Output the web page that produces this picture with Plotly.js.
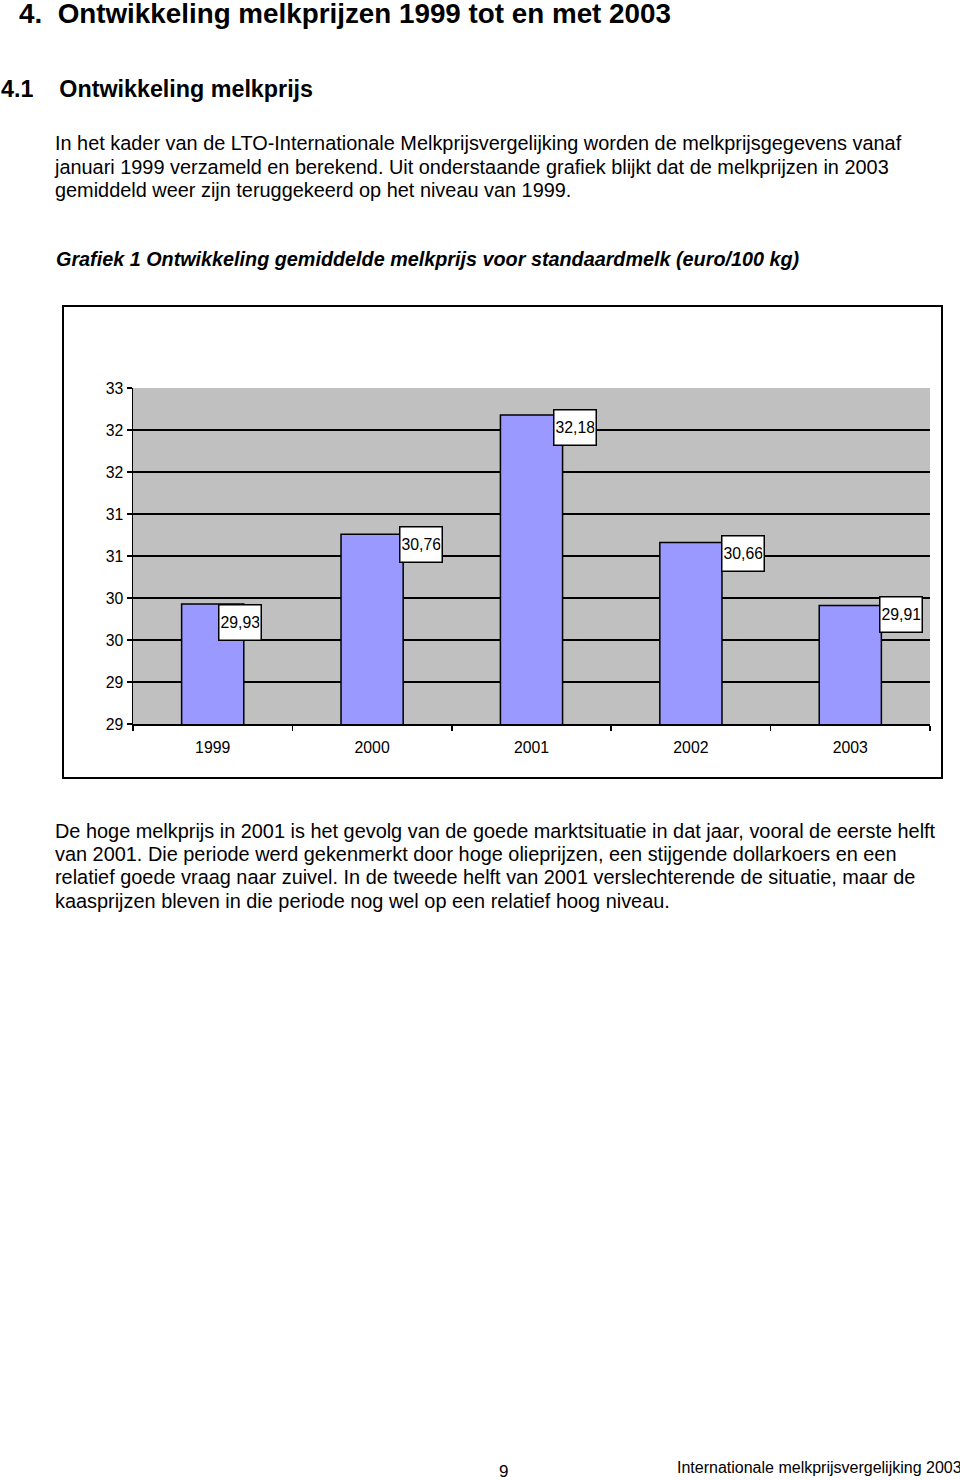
<!DOCTYPE html>
<html>
<head>
<meta charset="utf-8">
<script src="https://cdn.plot.ly/plotly-3.0.1.min.js"></script>
<style>
  html, body { margin: 0; padding: 0; background: #fff; }
  body { width: 960px; height: 1480px; position: relative; overflow: hidden;
         font-family: Arial, "Liberation Sans", sans-serif; color: #000; }
  .t { position: absolute; white-space: nowrap; }
  #h1 { left: 19px; top: -2px; font-size: 27.8px; font-weight: bold; }
  #h2 { left: 1px; top: 76px; font-size: 23.3px; font-weight: bold; }
  #p1 { left: 55px; top: 132px; font-size: 19.9px; line-height: 23.5px; }
  #cap { left: 56px; top: 248px; font-size: 19.8px; font-weight: bold; font-style: italic; }
  #p2 { left: 55px; top: 820px; font-size: 19.9px; line-height: 23.2px; }
  #pg { left: 499px; top: 1462px; font-size: 17px; }
  #ft { left: 677px; top: 1459px; font-size: 16px; }
  #chart { position: absolute; left: 62px; top: 305px; width: 877px; height: 470px;
           border: 2px solid #000; }
</style>
</head>
<body>
<div class="t" id="h1">4.&nbsp;&nbsp;Ontwikkeling melkprijzen 1999 tot en met 2003</div>
<div class="t" id="h2">4.1&nbsp;&nbsp;&nbsp;&nbsp;Ontwikkeling melkprijs</div>
<div class="t" id="p1">In het kader van de LTO-Internationale Melkprijsvergelijking worden de melkprijsgegevens vanaf<br>januari 1999 verzameld en berekend. Uit onderstaande grafiek blijkt dat de melkprijzen in 2003<br>gemiddeld weer zijn teruggekeerd op het niveau van 1999.</div>
<div class="t" id="cap">Grafiek 1 Ontwikkeling gemiddelde melkprijs voor standaardmelk (euro/100 kg)</div>
<div id="chart"></div>
<div class="t" id="p2">De hoge melkprijs in 2001 is het gevolg van de goede marktsituatie in dat jaar, vooral de eerste helft<br>van 2001. Die periode werd gekenmerkt door hoge olieprijzen, een stijgende dollarkoers en een<br>relatief goede vraag naar zuivel. In de tweede helft van 2001 verslechterende de situatie, maar de<br>kaasprijzen bleven in die periode nog wel op een relatief hoog niveau.</div>
<div class="t" id="pg">9</div>
<div class="t" id="ft">Internationale melkprijsvergelijking 2003</div>
<script>
// ---- data ----
const years = ["1999", "2000", "2001", "2002", "2003"];
const prices = [29.93, 30.76, 32.18, 30.66, 29.91];
const priceLabels = ["29,93", "30,76", "32,18", "30,66", "29,91"];
const yTickValues = [28.5, 29, 29.5, 30, 30.5, 31, 31.5, 32, 32.5];
const yTickLabels = ["29", "29", "30", "30", "31", "31", "32", "32", "33"];

// ---- label box offsets (style, px relative to bar centre / top) ----
const labelDx = [5, 27, 21, 30, 29];
const labelDy = [0, 8, 6, 8, 10];

const font = { family: "Arial, 'Liberation Sans', sans-serif", size: 15.8, color: "#000" };

const annotations = years.map((y, i) => ({
  x: i, y: prices[i], xref: "x", yref: "y",
  text: priceLabels[i],
  showarrow: false,
  xanchor: "left", yanchor: "top",
  xshift: labelDx[i], yshift: labelDy[i],
  width: 39, height: 32,
  align: "left", valign: "middle",
  bgcolor: "#fff", bordercolor: "#000", borderwidth: 1.5, borderpad: 1,
  font: font
}));

const trace = {
  type: "bar",
  x: years,
  y: prices,
  width: 0.39,
  marker: { color: "#9999ff", line: { color: "#000", width: 1.5 } },
  hoverinfo: "none"
};

const layout = {
  width: 877, height: 470,
  margin: { l: 69, r: 11, t: 81, b: 53 },
  paper_bgcolor: "#fff",
  plot_bgcolor: "#c0c0c0",
  showlegend: false,
  font: font,
  xaxis: {
    type: "category",
    range: [-0.5, 4.5], autorange: false,
    showline: true, linecolor: "#000", linewidth: 1.5,
    ticks: "outside", ticklen: 5, tickcolor: "#000", tickwidth: 1.5,
    tickson: "boundaries",
    ticklabelstandoff: 9,
    tickangle: 0,
    showgrid: false, zeroline: false,
    tickfont: font
  },
  yaxis: {
    range: [28.5, 32.5], autorange: false,
    tickmode: "array", tickvals: yTickValues, ticktext: yTickLabels,
    showline: true, linecolor: "#000", linewidth: 1.5,
    ticks: "outside", ticklen: 5, tickcolor: "#000", tickwidth: 1.5,
    showgrid: true, gridcolor: "#000", gridwidth: 1.8,
    zeroline: false,
    tickfont: font
  },
  annotations: annotations
};

Plotly.newPlot("chart", [trace], layout, { staticPlot: true, displayModeBar: false });
</script>
</body>
</html>
